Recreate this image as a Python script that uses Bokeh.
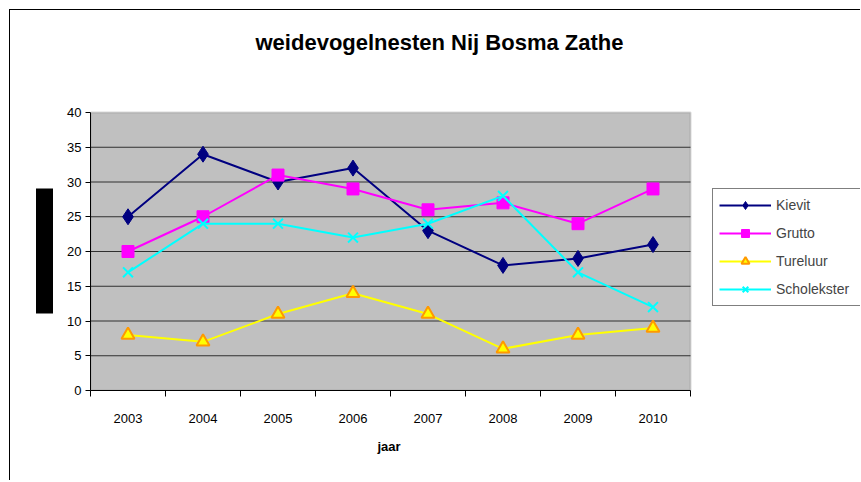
from bokeh.plotting import figure
from bokeh.models import FixedTicker, Range1d, Legend, LegendItem, Title, Label, BoxAnnotation
from bokeh.embed import file_html
from bokeh.resources import INLINE

years = ["2003", "2004", "2005", "2006", "2007", "2008", "2009", "2010"]
kievit = [25, 34, 30, 32, 23, 18, 19, 21]
grutto = [20, 25, 31, 29, 26, 27, 24, 29]
tureluur = [8, 7, 11, 14, 11, 6, 8, 9]
scholekster = [17, 24, 24, 22, 24, 28, 17, 12]
y_ticks = [0, 5, 10, 15, 20, 25, 30, 35, 40]
title_text = "weidevogelnesten Nij Bosma Zathe"
x_label = "jaar"

FONT = "Liberation Sans"
n = len(years)
y_max = y_ticks[-1]
xs = [i + 0.5 for i in range(n)]

# frame covers the whole area right of the y axis; the grey plot box is 600x278 px of it
FW, FH = 770, 380
PW, PH = 600, 278
p = figure(frame_width=FW, frame_height=FH, output_backend="svg", toolbar_location=None,
           x_range=Range1d(0, n * FW / PW), y_range=Range1d(0, y_max * FH / PH),
           min_border_left=80, min_border_right=0, min_border_top=0, min_border_bottom=90)
p.styles = {"border-top": "1px solid black", "border-left": "1px solid black",
            "margin-left": "9px", "margin-top": "9px"}
p.background_fill_color = "white"
p.border_fill_color = "white"
p.outline_line_color = None
p.title.visible = False
p.xgrid.visible = False
p.ygrid.visible = False

xa = p.below[0]
ya = p.left[0]

# grey plot area
p.add_layout(BoxAnnotation(left=0, right=n, bottom=0, top=y_max, level="underlay",
                           fill_color="#C0C0C0", fill_alpha=1,
                           line_color="#808080", line_width=2))
# horizontal gridlines
p.segment(x0=0, x1=n, y0=y_ticks[1:-1], y1=y_ticks[1:-1], line_color="black",
          line_alpha=0.75, line_width=1)

ya.ticker = FixedTicker(ticks=y_ticks)
ya.bounds = (0, y_max)
ya.major_tick_in = 0
ya.major_tick_out = 5
ya.minor_tick_line_color = None
ya.axis_line_color = "black"
ya.major_label_text_font = FONT
ya.major_label_text_font_size = "13px"
ya.major_label_text_color = "black"
ya.major_label_standoff = 4

xa.ticker = FixedTicker(ticks=xs, minor_ticks=list(range(n + 1)))
xa.bounds = (0, n)
xa.major_label_overrides = {x: y for x, y in zip(xs, years)}
xa.major_tick_in = 0
xa.major_tick_out = 0
xa.minor_tick_in = 0
xa.minor_tick_out = 6
xa.minor_tick_line_color = "black"
xa.axis_line_color = "black"
xa.major_label_text_font = FONT
xa.major_label_text_font_size = "13px"
xa.major_label_text_color = "black"
xa.major_label_standoff = 17

# x axis title, centred under the grey plot area
xlab = Title(text=x_label, text_font=FONT, text_font_size="13px", text_font_style="bold",
             text_color="black", align="left", offset=287, standoff=23)
p.add_layout(xlab, "below")

# black block left of the y axis
block = Title(text="\u00a0" * 30, text_font=FONT, text_font_size="15px", text_color="black",
              align="left", offset=77, standoff=23,
              background_fill_color="black", background_fill_alpha=1)
p.add_layout(block, "left")

series = [
    ("Kievit", kievit, dict(marker="diamond", size=16, fill_color="#000080", line_color="#000080"), "#000080"),
    ("Grutto", grutto, dict(marker="square", size=12, fill_color="#FF00FF", line_color="#FF00FF"), "#FF00FF"),
    ("Tureluur", tureluur, dict(marker="triangle", size=13, fill_color="#FFFF00", line_color="#FF9900", line_width=2), "#FFFF00"),
    ("Scholekster", scholekster, dict(marker="x", size=14, line_color="#00FFFF", line_width=2), "#00FFFF"),
]
items = []
for name, vals, mk, col in series:
    lr = p.line(xs, vals, line_color=col, line_width=2)
    sr = p.scatter(xs, vals, **mk)
    items.append(LegendItem(label=name, renderers=[lr, sr]))

legend = Legend(items=items, location=(622, 84))
legend.border_line_color = "black"
legend.border_line_width = 1
legend.background_fill_color = "white"
legend.background_fill_alpha = 1
legend.label_text_font = FONT
legend.label_text_font_size = "14px"
legend.glyph_width = 52
legend.glyph_height = 20
legend.spacing = 8
legend.padding = 6
legend.label_standoff = 5
legend.label_width = 79
legend.margin = 0
p.add_layout(legend, "center")

ttl = Label(x=349, y=348, x_units="screen", y_units="screen", text=title_text,
            text_font=FONT, text_font_size="22px", text_font_style="bold",
            text_align="center", text_baseline="middle", text_color="black")
p.add_layout(ttl)

open("out.html", "w").write(file_html(p, INLINE))
